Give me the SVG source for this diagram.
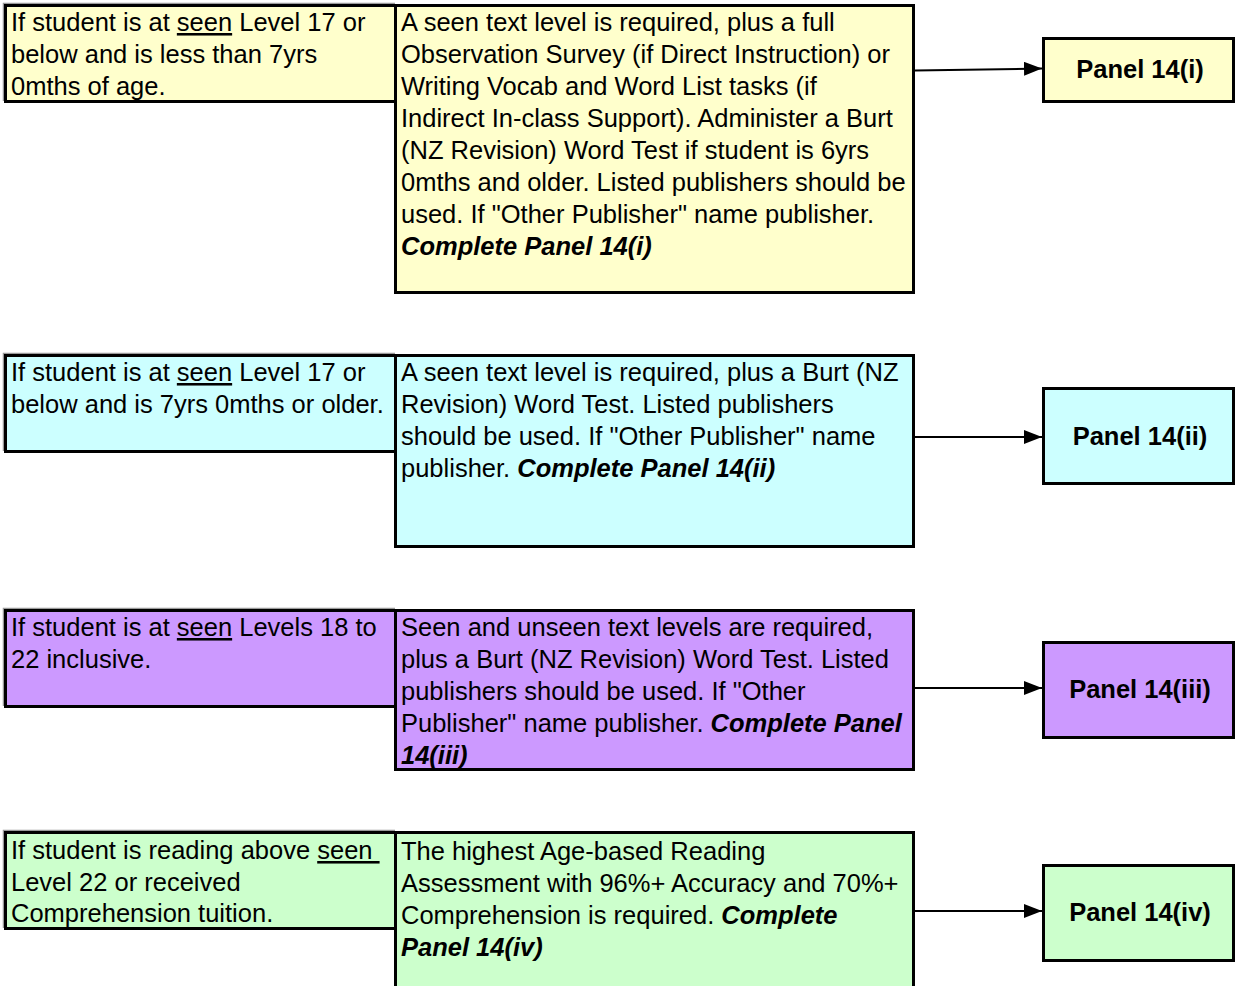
<svg xmlns="http://www.w3.org/2000/svg" width="1235" height="986" viewBox="0 0 1235 986">
<defs>
<style>
.t{font-family:"Liberation Sans",Arial,sans-serif;font-size:25.5px;fill:#000}
.b{font-weight:bold}
.bi{font-weight:bold;font-style:italic}
.u{text-decoration:underline}
.box{stroke:#000;stroke-width:3}
.sh{fill:none;stroke:#999;stroke-width:1.5}
.y{fill:#FFFFCC}.c{fill:#CCFFFF}.p{fill:#CC99FF}.g{fill:#CCFFCC}
.con{stroke:#000;stroke-width:2;fill:none}
</style>
<marker id="ah" viewBox="0 0 18 14" refX="18" refY="7" markerWidth="18" markerHeight="14" markerUnits="userSpaceOnUse" orient="auto">
<path d="M0,0 L18,7 L0,14 Z" fill="#000"/>
</marker>
</defs>
<rect width="1235" height="986" fill="#fff"/>

<g id="connectors">
<line class="con" x1="915" y1="70.5" x2="1042" y2="68.5" marker-end="url(#ah)"/>
<line class="con" x1="915" y1="437" x2="1042" y2="437" marker-end="url(#ah)"/>
<line class="con" x1="915" y1="688" x2="1042" y2="688" marker-end="url(#ah)"/>
<line class="con" x1="915" y1="911" x2="1042" y2="911" marker-end="url(#ah)"/>
</g>

<!-- Row 1 -->
<g id="cond1">
<path class="sh" d="M3.5,101 V3.5 H395"/>
<rect class="box y" x="5.5" y="5.5" width="390" height="96"/>
<text class="t" x="11" y="31">If student is at <tspan class="u">seen</tspan> Level 17 or</text>
<text class="t" x="11" y="63">below and is less than 7yrs</text>
<text class="t" x="11" y="95">0mths of age.</text>
</g>
<g id="req1">
<rect class="box y" x="395.5" y="5.5" width="518" height="287"/>
<text class="t" x="401" y="31">A seen text level is required, plus a full</text>
<text class="t" x="401" y="63">Observation Survey (if Direct Instruction) or</text>
<text class="t" x="401" y="95">Writing Vocab and Word List tasks (if</text>
<text class="t" x="401" y="127">Indirect In-class Support). Administer a Burt</text>
<text class="t" x="401" y="159">(NZ Revision) Word Test if student is 6yrs</text>
<text class="t" x="401" y="191">0mths and older. Listed publishers should be</text>
<text class="t" x="401" y="223">used. If "Other Publisher" name publisher.</text>
<text class="t bi" x="401" y="255">Complete Panel 14(i)</text>
</g>
<g id="panel1">
<rect class="box y" x="1043.5" y="38.5" width="190" height="63"/>
<text class="t b" x="1140" y="78" text-anchor="middle">Panel 14(i)</text>
</g>

<!-- Row 2 -->
<g id="cond2">
<path class="sh" d="M3.5,451 V353.5 H395"/>
<rect class="box c" x="5.5" y="355.5" width="390" height="96"/>
<text class="t" x="11" y="381">If student is at <tspan class="u">seen</tspan> Level 17 or</text>
<text class="t" x="11" y="413">below and is 7yrs 0mths or older.</text>
</g>
<g id="req2">
<rect class="box c" x="395.5" y="355.5" width="518" height="191"/>
<text class="t" x="401" y="381">A seen text level is required, plus a Burt (NZ</text>
<text class="t" x="401" y="413">Revision) Word Test. Listed publishers</text>
<text class="t" x="401" y="445">should be used. If "Other Publisher" name</text>
<text class="t" x="401" y="477">publisher. <tspan class="bi">Complete Panel 14(ii)</tspan></text>
</g>
<g id="panel2">
<rect class="box c" x="1043.5" y="388.5" width="190" height="95"/>
<text class="t b" x="1140" y="445" text-anchor="middle">Panel 14(ii)</text>
</g>

<!-- Row 3 -->
<g id="cond3">
<path class="sh" d="M3.5,706 V608.5 H395"/>
<rect class="box p" x="5.5" y="610.5" width="390" height="96"/>
<text class="t" x="11" y="636">If student is at <tspan class="u">seen</tspan> Levels 18 to</text>
<text class="t" x="11" y="668">22 inclusive.</text>
</g>
<g id="req3">
<rect class="box p" x="395.5" y="610.5" width="518" height="159"/>
<text class="t" x="401" y="636">Seen and unseen text levels are required,</text>
<text class="t" x="401" y="668">plus a Burt (NZ Revision) Word Test. Listed</text>
<text class="t" x="401" y="700">publishers should be used. If "Other</text>
<text class="t" x="401" y="732">Publisher" name publisher. <tspan class="bi">Complete Panel</tspan></text>
<text class="t bi" x="401" y="764">14(iii)</text>
</g>
<g id="panel3">
<rect class="box p" x="1043.5" y="642.5" width="190" height="95"/>
<text class="t b" x="1140" y="698" text-anchor="middle">Panel 14(iii)</text>
</g>

<!-- Row 4 -->
<g id="cond4">
<path class="sh" d="M3.5,928 V830.5 H395"/>
<rect class="box g" x="5.5" y="832.5" width="390" height="96"/>
<text class="t" x="11" y="859">If student is reading above <tspan class="u">seen&#160;</tspan></text>
<text class="t" x="11" y="891">Level 22 or received</text>
<text class="t" x="11" y="922">Comprehension tuition.</text>
</g>
<g id="req4">
<rect class="g" x="395.5" y="832.5" width="518" height="160"/>
<path class="box" fill="none" d="M395.5,990 V832.5 H913.5 V990"/>
<text class="t" x="401" y="860">The highest Age-based Reading</text>
<text class="t" x="401" y="892">Assessment with 96%+ Accuracy and 70%+</text>
<text class="t" x="401" y="924">Comprehension is required. <tspan class="bi">Complete</tspan></text>
<text class="t bi" x="401" y="956">Panel 14(iv)</text>
</g>
<g id="panel4">
<rect class="box g" x="1043.5" y="865.5" width="190" height="95"/>
<text class="t b" x="1140" y="921" text-anchor="middle">Panel 14(iv)</text>
</g>
</svg>
